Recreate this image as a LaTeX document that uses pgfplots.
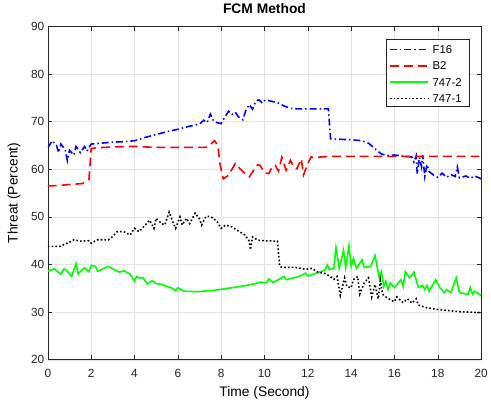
\documentclass[border=0pt]{standalone}
\usepackage{fontspec}
\setmainfont{Liberation Sans}
\usepackage{pgfplots}
\pgfplotsset{compat=1.18}

\pgfplotstableread{
x y
0 64.5
0.2 66
0.4 65
0.5 63.5
0.6 65.3
0.8 64.2
0.9 61.8
1.0 64
1.2 63
1.3 64.8
1.5 63.5
1.7 64.8
1.8 63.8
2.0 65.3
2.5 65.5
3.0 65.7
3.5 65.8
4.0 66.0
4.5 66.7
5.0 67.3
5.5 67.9
6.0 68.4
6.5 69.0
7.0 69.5
7.2 70.3
7.35 69.8
7.5 71.6
7.65 70.2
7.8 69.8
8.0 69.6
8.2 71.2
8.35 72.2
8.5 71.5
8.65 72.0
8.8 71.0
9.0 70.4
9.15 72.5
9.3 73.6
9.45 72.6
9.6 74.3
9.75 74.6
9.9 73.9
10.05 74.6
10.3 74.3
10.6 74.0
10.9 73.3
11.2 72.8
11.5 72.7
12.0 72.7
12.5 72.7
12.95 72.7
13.05 66.4
13.5 66.3
14.0 66.2
14.5 66.0
14.8 65.5
15.1 64.3
15.4 63.2
15.7 62.9
16.0 63.0
16.5 62.7
16.8 62.6
16.9 61.5
17.0 62.8
17.05 59.0
17.15 62.5
17.25 60.5
17.3 63
17.4 58.5
17.5 61
17.6 59.5
17.8 58.8
18.0 58.3
18.2 59.2
18.4 58.3
18.6 58.9
18.8 58.5
18.9 60.5
19.0 58.2
19.3 58.6
19.5 58.1
19.7 58.6
20 58.0
}\fsixteen

\pgfplotstableread{
x y
0 56.5
0.5 56.6
1.0 56.8
1.6 57.0
1.9 57.9
2.0 64.3
2.2 64.5
3.0 64.7
4.0 64.8
5.0 64.6
6.0 64.6
7.3 64.6
7.5 65.2
7.7 66.0
7.85 65.0
7.95 61.0
8.1 58.0
8.3 58.6
8.5 60.0
8.65 61.2
9.0 59.5
9.3 58.4
9.5 59.8
9.7 61.0
9.8 60.8
10.0 59.3
10.2 59.1
10.35 60.5
10.5 60.8
10.65 59.6
10.8 62.5
11.0 59.8
11.2 61.9
11.35 60.4
11.5 60.1
11.7 62.2
11.8 58.8
12.0 61.2
12.15 62.6
12.3 62.5
13.0 62.7
14.0 62.7
15.0 62.7
16.0 62.7
17.0 62.7
18.0 62.7
19.0 62.7
20.0 62.7
}\btwo

\pgfplotstableread{
x y
0 38.6
0.3 39.1
0.6 38.0
0.75 39.1
0.9 38.6
1.1 37.5
1.3 40.2
1.4 38.0
1.55 38.8
1.7 39.3
1.9 38.5
2.0 39.8
2.2 39.6
2.3 38.6
2.5 39.0
2.8 39.6
3.0 39.1
3.3 38.4
3.5 38.7
3.8 38.0
4.0 36.5
4.1 37.5
4.2 37.2
4.4 37.2
4.6 35.9
4.8 36.6
5.0 36.0
5.3 35.8
5.5 35.4
5.7 35.1
5.9 34.5
6.0 35.1
6.3 34.4
6.9 34.3
7.7 34.6
8.3 35.0
8.9 35.4
9.5 35.9
9.8 36.3
10.1 36.2
10.2 37.0
10.4 36.2
10.9 37.5
11.0 36.8
11.6 37.5
11.9 38.2
12.0 37.6
12.6 38.5
12.8 38.9
12.9 39.9
13.0 38.9
13.2 39.2
13.3 43.5
13.45 39.2
13.65 43.0
13.75 39.4
13.9 44.0
14.0 39.6
14.1 41.3
14.25 39.2
14.5 41.0
14.6 39.4
14.9 39.6
15.1 41.9
15.3 37.2
15.4 38.5
15.5 35.4
15.6 36.5
15.7 34.7
15.8 36.1
16.0 35.2
16.3 36.8
16.4 35.4
16.5 38.5
16.7 37.2
16.9 38.4
17.1 35.2
17.3 35.6
17.4 34.7
17.5 35.6
17.6 34.4
17.9 36.8
18.1 35.1
18.3 34.1
18.4 34.7
18.6 34.1
18.85 37.2
19.0 34.1
19.3 33.8
19.4 33.8
19.5 35.2
19.6 33.8
19.7 34.4
20.0 33.5
}\bsevenfourseventwo

\pgfplotstableread{
x y
0 43.8
0.55 43.8
0.8 44.3
1.1 44.9
1.2 45.2
1.5 44.9
1.9 45.0
2.0 44.5
2.3 45.2
2.8 45.2
3.0 45.9
3.2 46.9
3.5 46.9
3.8 46.2
4.0 47.6
4.2 46.9
4.5 48.3
4.7 49.3
4.9 47.6
5.0 49.7
5.25 48.6
5.4 48.3
5.6 51.0
5.8 48.6
5.9 47.6
6.1 50.0
6.2 48.3
6.4 49.7
6.55 48.6
6.8 50.8
7.0 49.6
7.1 48.3
7.3 50.1
7.5 50.1
7.8 49.1
8.0 47.6
8.2 48.3
8.5 47.9
8.7 47.3
9.1 46.2
9.3 44.9
9.35 43.1
9.45 45.8
9.7 45.1
10.0 45.0
10.6 44.9
10.7 39.7
10.8 39.4
11.4 39.4
11.9 39.0
12.2 39.2
12.4 38.5
12.8 38.1
13.0 37.6
13.2 36.9
13.35 37.5
13.5 33.5
13.7 37.2
13.8 35.4
14.0 35.1
14.1 36.8
14.3 37.5
14.4 33.8
14.6 36.1
14.8 37.2
14.95 33.2
15.1 35.8
15.25 32.8
15.35 36.6
15.45 33.8
15.6 33.2
15.85 32.5
16.0 32.2
16.1 33.2
16.4 32.0
16.6 32.8
16.8 31.9
17.0 32.8
17.1 31.5
17.5 30.9
18.1 30.5
19.0 30.1
20.0 29.9
}\bsevenfourseveone

\definecolor{axgray}{gray}{0.15}
\definecolor{mgreen}{rgb}{0,1,0}

\tikzset{
  f16line/.style={color=blue, line width=1.6bp, dash pattern=on 7bp off 3bp on 1.5bp off 3bp},
  b2line/.style={color=red, line width=1.6bp, dash pattern=on 9bp off 5bp},
  jetaline/.style={color=mgreen, line width=1.6bp},
  jetbline/.style={color=black, line width=1.6bp, dash pattern=on 1.6bp off 2.2bp},
  legtext/.style={anchor=west, inner sep=0pt, font=\fontsize{11.5}{13}\selectfont},
}

\begin{document}
\begin{tikzpicture}
\begin{axis}[
    scale only axis,
    width=437.7bp, height=336.7bp,
    xmin=0, xmax=20, ymin=20, ymax=90,
    xtick={0,2,...,20}, ytick={20,30,...,90},
    grid=major,
    grid style={gray!22, line width=0.5bp},
    axis line style={axgray, line width=0.6bp},
    tick style={axgray, line width=0.6bp},
    tick align=inside,
    major tick length=4.5bp,
    /pgf/number format/assume math mode=true,
    ticklabel style={font=\fontsize{12}{14}\selectfont, text=axgray},
    x tick label style={yshift=-6bp},
    xlabel={Time (Second)},
    ylabel={Threat (Percent)},
    label style={font=\fontsize{14}{16}\selectfont},
    x label style={at={(axis description cs:0.5,-0.1)}, anchor=center},
    y label style={at={(axis description cs:-0.078,0.5)}, anchor=center},
    title={\textbf{FCM Method}},
    title style={font=\fontsize{14}{16}\selectfont, at={(axis description cs:0.5,1.0365)}, anchor=center},
]
\addplot[f16line] table {\fsixteen};
\addplot[b2line] table {\btwo};
\addplot[jetaline] table {\bsevenfourseventwo};
\addplot[jetbline] table {\bsevenfourseveone};
% legend: box, sample lines and names
\draw[axgray, fill=white, line width=0.6bp] (axis cs:15.60,87.30) rectangle (axis cs:19.44,73.22);
\addplot[f16line] coordinates {(15.79,85.18) (17.57,85.18)};
\addplot[b2line] coordinates {(15.79,81.75) (17.57,81.75)};
\addplot[jetaline] coordinates {(15.79,78.32) (17.57,78.32)};
\addplot[jetbline] coordinates {(15.79,74.89) (17.57,74.89)};
\node[legtext] at (axis cs:17.75,85.18) {F16};
\node[legtext] at (axis cs:17.75,81.75) {B2};
\node[legtext] at (axis cs:17.75,78.32) {747-2};
\node[legtext] at (axis cs:17.75,74.89) {747-1};
\end{axis}
\path[use as bounding box] ([xshift=-48.3bp,yshift=-45bp]current axis.south west)
    rectangle ([xshift=5bp,yshift=26.3bp]current axis.north east);
\end{tikzpicture}
\end{document}
